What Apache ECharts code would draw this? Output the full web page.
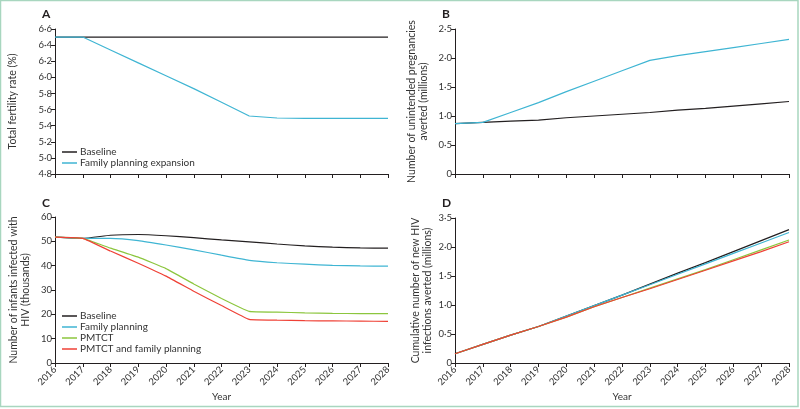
<!DOCTYPE html>
<html>
<head>
<meta charset="utf-8">
<script src="https://cdn.jsdelivr.net/npm/echarts@6/dist/echarts.min.js"></script>
<style>
  html, body { margin: 0; padding: 0; background: #fff; }
  #main { width: 800px; height: 409px; }
</style>
</head>
<body>
<div id="main"></div>
<script>
// years on the x axis
const years = ['2016','2017','2018','2019','2020','2021','2022','2023','2024','2025','2026','2027','2028'];

// A: total fertility rate
const fertBaseline = [6.5,6.5,6.5,6.5,6.5,6.5,6.5,6.5,6.5,6.5,6.5,6.5,6.5];
const fertFP = [6.5,6.5,6.34,6.18,6.02,5.86,5.69,5.52,5.495,5.49,5.49,5.49,5.49];

// B: unintended pregnancies averted (millions)
const pregBaseline = [0.87,0.89,0.91,0.93,0.97,1.0,1.03,1.06,1.1,1.13,1.17,1.21,1.25];
const pregFP = [0.87,0.89,1.06,1.23,1.42,1.6,1.78,1.96,2.04,2.11,2.18,2.25,2.32];

// C: infants infected with HIV (thousands)
const infBaseline = [51.7,51.2,52.5,52.8,52.3,51.5,50.6,49.8,48.9,48.1,47.6,47.3,47.2];
const infFP = [51.7,51.2,51.2,50.3,48.5,46.5,44.3,42.2,41.2,40.6,40.1,39.9,39.8];
const infPMTCT = [51.7,51.2,47.2,43.5,38.8,32.5,26.5,21.2,20.9,20.6,20.4,20.3,20.3];
const infBoth = [51.7,51.2,46.0,41.0,35.7,29.5,23.6,17.9,17.6,17.4,17.3,17.2,17.1];

// D: cumulative new HIV infections averted (millions)
const cumBaseline = [0.16,0.32,0.48,0.63,0.81,0.99,1.17,1.36,1.55,1.73,1.92,2.11,2.30];
const cumFP = [0.16,0.32,0.48,0.63,0.81,0.99,1.17,1.35,1.53,1.71,1.89,2.07,2.25];
const cumPMTCT = [0.16,0.32,0.48,0.63,0.79,0.97,1.13,1.29,1.45,1.61,1.78,1.95,2.12];
const cumBoth = [0.16,0.32,0.48,0.63,0.79,0.97,1.13,1.28,1.44,1.60,1.76,1.92,2.09];

// tick labels as printed
const ticksA = ['4·8','5·0','5·2','5·4','5·6','5·8','6·0','6·2','6·4','6·6'];
const ticksB = ['0','0·5','1·0','1·5','2·0','2·5'];
const ticksC = ['0','10','20','30','40','50','60'];
const ticksD = ['0','0·5','1·0','1·5','2·0','3·5'];

const FONT = "Lato, 'Open Sans', sans-serif";
const BLACK = '#231f20', BLUE = '#3fb5d3', GREEN = '#8cc63e', RED = '#ef4136';

function xAx(i, showLabels) {
  return {
    type: 'category', gridIndex: i, data: years, boundaryGap: false,
    name: showLabels ? 'Year' : '', nameLocation: 'middle', nameGap: 29,
    nameTextStyle: { fontFamily: FONT, fontSize: 10, color: '#333' },
    axisLine: { lineStyle: { color: BLACK, width: 1 } },
    axisTick: { show: true, length: 4, alignWithLabel: true, lineStyle: { color: BLACK } },
    axisLabel: { show: showLabels, rotate: 45, fontFamily: FONT, fontSize: 9.5, color: '#333', margin: 5, interval: 0 },
    splitLine: { show: false }
  };
}
function yAx(i, min, max, step, ticks, name, gap) {
  return {
    type: 'value', gridIndex: i, min: min, max: max, interval: step,
    name: name, nameLocation: 'middle', nameGap: gap,
    nameTextStyle: { fontFamily: FONT, fontSize: 10.5, color: '#333', lineHeight: 12 },
    axisLine: { show: true, lineStyle: { color: BLACK, width: 1 } },
    axisTick: { show: true, length: 4, lineStyle: { color: BLACK } },
    axisLabel: { fontFamily: FONT, fontSize: 9.5, color: '#333', margin: 3,
      formatter: (v) => ticks[Math.round((v - min) / step)] },
    splitLine: { show: false }
  };
}
function ln(name, data, color, i, smooth) {
  return { name: name, type: 'line', data: data, xAxisIndex: i, yAxisIndex: i,
    showSymbol: false, smooth: smooth, lineStyle: { color: color, width: 1.2 }, itemStyle: { color: color } };
}
const legendBase = {
  orient: 'vertical', itemWidth: 15, itemHeight: 1.5, itemGap: 1, icon: 'rect',
  textStyle: { fontFamily: FONT, fontSize: 10, color: '#333', padding: [0, 0, 0, -2] }, padding: 0
};

const chart = echarts.init(document.getElementById('main'), null, { renderer: 'canvas' });
chart.setOption({
  animation: false,
  grid: [
    { left: 55, top: 29, width: 333, height: 145 },
    { left: 455, top: 29, width: 334, height: 145 },
    { left: 55, top: 217, width: 333, height: 146 },
    { left: 455, top: 218, width: 334, height: 145 }
  ],
  xAxis: [xAx(0, false), xAx(1, false), xAx(2, true), xAx(3, true)],
  yAxis: [
    yAx(0, 4.8, 6.6, 0.2, ticksA, 'Total fertility rate (%)', 36),
    yAx(1, 0, 2.5, 0.5, ticksB, 'Number of unintended pregnancies\naverted (millions)', 25),
    yAx(2, 0, 60, 10, ticksC, 'Number of infants infected with\nHIV (thousands)', 23),
    yAx(3, 0, 2.5, 0.5, ticksD, 'Cumulative number of new HIV\ninfections averted (millions)', 21)
  ],
  legend: [
    Object.assign({}, legendBase, { left: 62, top: 147, data: ['Baseline', 'Family planning expansion'] }),
    Object.assign({}, legendBase, { left: 62, top: 311, data: ['Baseline', 'Family planning', 'PMTCT', 'PMTCT and family planning'] })
  ],
  graphic: [
    { type: 'rect', shape: { x: 0.5, y: 0.5, width: 797.5, height: 406 }, style: { fill: 'none', stroke: '#a8d6bf', lineWidth: 1.5 }, silent: true },
    { type: 'text', left: 42, top: 8, style: { text: 'A', font: 'bold 12px ' + FONT, fill: BLACK } },
    { type: 'text', left: 442, top: 8, style: { text: 'B', font: 'bold 12px ' + FONT, fill: BLACK } },
    { type: 'text', left: 42, top: 197, style: { text: 'C', font: 'bold 12px ' + FONT, fill: BLACK } },
    { type: 'text', left: 442, top: 197, style: { text: 'D', font: 'bold 12px ' + FONT, fill: BLACK } }
  ],
  series: [
    ln('Baseline', fertBaseline, BLACK, 0, false),
    ln('Family planning expansion', fertFP, BLUE, 0, false),
    ln('Baseline', pregBaseline, BLACK, 1, false),
    ln('Family planning expansion', pregFP, BLUE, 1, false),
    ln('Baseline', infBaseline, BLACK, 2, 0.15),
    ln('Family planning', infFP, BLUE, 2, 0.15),
    ln('PMTCT', infPMTCT, GREEN, 2, 0.1),
    ln('PMTCT and family planning', infBoth, RED, 2, 0.1),
    ln('Baseline', cumBaseline, BLACK, 3, false),
    ln('Family planning', cumFP, BLUE, 3, false),
    ln('PMTCT', cumPMTCT, GREEN, 3, false),
    ln('PMTCT and family planning', cumBoth, RED, 3, false)
  ]
});
</script>
</body>
</html>
